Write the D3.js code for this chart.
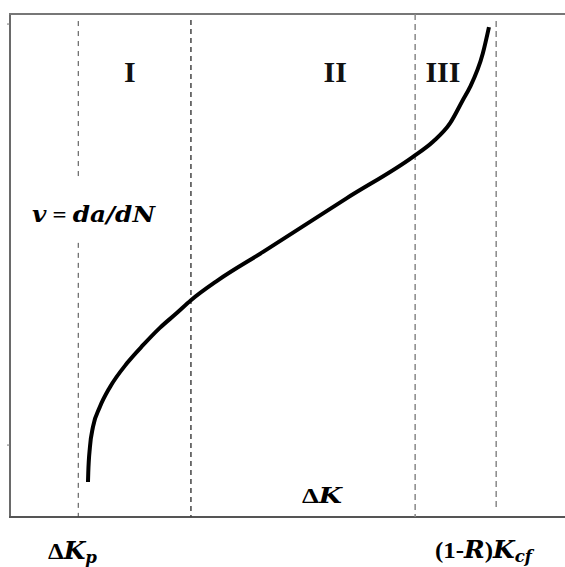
<!DOCTYPE html>
<html>
<head>
<meta charset="utf-8">
<script src="https://cdn.jsdelivr.net/npm/d3@7"></script>
<style>
  body { margin: 0; background: #fff; }
  text { font-family: "Liberation Serif", "Times New Roman", serif; font-weight: bold; }
  .it { font-family: "DejaVu Serif", serif; font-style: italic; }
</style>
</head>
<body>
<script>
// crack growth rate curve, arbitrary units (0..100 both ways)
var curveDK = [14.05, 14.1, 14.4, 14.95, 16.2, 18.0, 21.1, 24.0, 27.0, 30.1, 32.6, 37.5, 45.6, 60.7, 72.6, 76.2, 79.3, 81.6, 82.9, 85.2, 86.3];
var curveV  = [6.96, 8.75, 13.9, 17.9, 21.9, 25.8, 30.6, 34.2, 37.6, 40.6, 43.1, 47.1, 52.7, 63.4, 71.6, 74.6, 78.3, 82.9, 85.5, 92.2, 97.4];

// region boundaries
var boundaryNames = ["dKp", "I-II", "II-III", "Kcf"];
var boundaryDK = [12.3, 32.6, 73.0, 87.6];

var regionLabels = ["I", "II", "III"];
var regionDK = [21.6, 58.6, 78.0];

var width = 565,
    height = 567;

var svg = d3.select("body").append("svg")
    .attr("width", width)
    .attr("height", height);

var x = d3.scaleLinear().domain([0, 100]).range([10, 565]);
var y = d3.scaleLinear().domain([0, 100]).range([517, 14]);

// frame: left, top, bottom
svg.append("line")
    .attr("x1", x(0)).attr("y1", y(0)).attr("x2", x(0)).attr("y2", y(100))
    .attr("stroke", "#6a6a6a").attr("stroke-width", 2);
svg.append("line")
    .attr("x1", x(0) - 1).attr("y1", y(100)).attr("x2", x(100)).attr("y2", y(100))
    .attr("stroke", "#777").attr("stroke-width", 2);
svg.append("line")
    .attr("x1", x(0) - 1).attr("y1", y(0)).attr("x2", x(100)).attr("y2", y(0))
    .attr("stroke", "#555").attr("stroke-width", 2);

// the two little ticks on the left
[98, 14.3].forEach(function(v) {
  svg.append("line")
      .attr("x1", x(0) - 3).attr("y1", y(v)).attr("x2", x(0)).attr("y2", y(v))
      .attr("stroke", "#777").attr("stroke-width", 1);
});

// dashed boundaries
var dashStyle = {
  "dKp":    { color: "#444", w: 1,   dash: "5,5", top: 98.6, bottom: 0, gap: [54.5, 67.5] },
  "I-II":   { color: "#444", w: 1.5, dash: "5,4", top: 98.8, bottom: 0 },
  "II-III": { color: "#888", w: 1.5, dash: "6,4", top: 100,  bottom: 0 },
  "Kcf":    { color: "#888", w: 1.5, dash: "6,4", top: 98.6, bottom: 1.4 }
};

boundaryNames.forEach(function(name, i) {
  var s = dashStyle[name];
  var segs = s.gap ? [[s.bottom, s.gap[0]], [s.gap[1], s.top]] : [[s.bottom, s.top]];
  segs.forEach(function(seg) {
    svg.append("line")
        .attr("x1", x(boundaryDK[i])).attr("x2", x(boundaryDK[i]))
        .attr("y1", y(seg[1])).attr("y2", y(seg[0]))
        .attr("stroke", s.color)
        .attr("stroke-width", s.w)
        .attr("stroke-dasharray", s.dash);
  });
});

// the curve
var pts = curveDK.map(function(d, i) { return [d, curveV[i]]; });
var line = d3.line()
    .x(function(d) { return x(d[0]); })
    .y(function(d) { return y(d[1]); })
    .curve(d3.curveMonotoneX);

svg.append("path")
    .datum(pts)
    .attr("d", line)
    .attr("fill", "none")
    .attr("stroke", "#000")
    .attr("stroke-width", 4)
    .attr("stroke-linecap", "butt");

// region numerals
svg.selectAll("text.region")
    .data(regionLabels)
    .enter().append("text")
    .attr("class", "region")
    .attr("x", function(d, i) { return x(regionDK[i]); })
    .attr("y", 82)
    .attr("text-anchor", "middle")
    .attr("font-size", 30)
    .attr("fill", "#111")
    .text(function(d) { return d; });

// y label
var vl = svg.append("text").attr("x", 32).attr("y", 222).attr("font-size", 22)
    .attr("textLength", 123).attr("lengthAdjust", "spacingAndGlyphs");
vl.append("tspan").attr("class", "it").text("v");
vl.append("tspan").text(" = ");
vl.append("tspan").attr("class", "it").text("da/dN");

// x label
var xl = svg.append("text").attr("x", 302).attr("y", 503).attr("font-size", 22)
    .attr("textLength", 40).attr("lengthAdjust", "spacingAndGlyphs");
xl.append("tspan").text("\u0394");
xl.append("tspan").attr("class", "it").text("K");

// threshold labels
var kp = svg.append("text").attr("x", 48).attr("y", 559).attr("font-size", 24)
    .attr("textLength", 49).attr("lengthAdjust", "spacingAndGlyphs");
kp.append("tspan").text("\u0394");
kp.append("tspan").attr("class", "it").text("K");
kp.append("tspan").attr("class", "it").attr("font-size", 16).attr("dy", 4).text("p");

var kc = svg.append("text").attr("x", 435).attr("y", 558).attr("font-size", 24)
    .attr("textLength", 97).attr("lengthAdjust", "spacingAndGlyphs");
kc.append("tspan").text("(1-");
kc.append("tspan").attr("class", "it").text("R");
kc.append("tspan").text(")");
kc.append("tspan").attr("class", "it").text("K");
kc.append("tspan").attr("class", "it").attr("font-size", 16).attr("dy", 4).text("cf");
</script>
</body>
</html>
